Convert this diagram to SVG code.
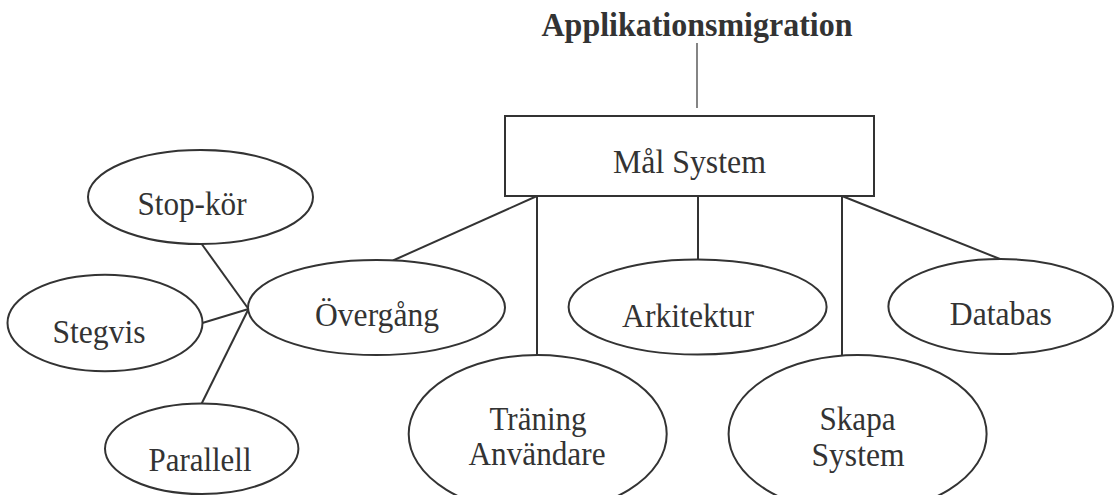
<svg xmlns="http://www.w3.org/2000/svg" width="1114" height="495" viewBox="0 0 1114 495">
<style>
.t{font-family:"Liberation Serif","Times New Roman",serif;font-size:34px;fill:#333;text-anchor:middle}
.b{font-weight:bold}
.n{fill:#fff;stroke:#333;stroke-width:2}
.c line{stroke:#333;stroke-width:2}
</style>
<rect width="1114" height="495" fill="#fff"/>
<g id="title"><text class="t b" x="697" y="36" textLength="311" lengthAdjust="spacingAndGlyphs">Applikationsmigration</text></g>
<g class="c" id="connectors">
<line x1="697" y1="43" x2="697" y2="108" style="stroke-width:1.2"/>
<line x1="537" y1="196" x2="393" y2="260.5"/>
<line x1="537" y1="196" x2="537" y2="355"/>
<line x1="698" y1="196" x2="698" y2="259.5"/>
<line x1="842" y1="196" x2="842" y2="356"/>
<line x1="842" y1="196" x2="1000" y2="259"/>
<line x1="201.7" y1="244" x2="248.5" y2="309"/>
<line x1="202.3" y1="323" x2="248.5" y2="309"/>
<line x1="201.7" y1="403.5" x2="248.5" y2="309"/>
</g>
<g id="mal"><rect class="n" x="505" y="116" width="369" height="80"/><text class="t" x="689.5" y="173" textLength="153" lengthAdjust="spacingAndGlyphs">Mål System</text></g>
<g id="stopkor"><ellipse class="n" cx="200.5" cy="197" rx="112.5" ry="47"/><text class="t" x="192" y="215" textLength="109" lengthAdjust="spacingAndGlyphs">Stop-kör</text></g>
<g id="stegvis"><ellipse class="n" cx="105" cy="323" rx="97.5" ry="48.3"/><text class="t" x="99" y="342.7" textLength="93" lengthAdjust="spacingAndGlyphs">Stegvis</text></g>
<g id="parallell"><ellipse class="n" cx="201.7" cy="448.7" rx="96.7" ry="45.3"/><text class="t" x="200" y="471" textLength="103" lengthAdjust="spacingAndGlyphs">Parallell</text></g>
<g id="overgang"><ellipse class="n" cx="376.5" cy="307.5" rx="128.5" ry="47.5"/><text class="t" x="377" y="325.7" textLength="124" lengthAdjust="spacingAndGlyphs">Övergång</text></g>
<g id="arkitektur"><ellipse class="n" cx="697.6" cy="307" rx="129" ry="47.5"/><text class="t" x="688" y="327" textLength="132" lengthAdjust="spacingAndGlyphs">Arkitektur</text></g>
<g id="databas"><ellipse class="n" cx="1000.7" cy="306.5" rx="112.3" ry="47.5"/><text class="t" x="1000.8" y="325" textLength="102" lengthAdjust="spacingAndGlyphs">Databas</text></g>
<g id="traning"><ellipse class="n" cx="537.7" cy="434" rx="129" ry="79"/><text class="t" x="538" y="430" textLength="97" lengthAdjust="spacingAndGlyphs">Träning</text><text class="t" x="537" y="465" textLength="137" lengthAdjust="spacingAndGlyphs">Användare</text></g>
<g id="skapa"><ellipse class="n" cx="857.6" cy="434" rx="129" ry="79"/><text class="t" x="857.5" y="430" textLength="76" lengthAdjust="spacingAndGlyphs">Skapa</text><text class="t" x="858" y="465.7" textLength="93" lengthAdjust="spacingAndGlyphs">System</text></g>
</svg>
